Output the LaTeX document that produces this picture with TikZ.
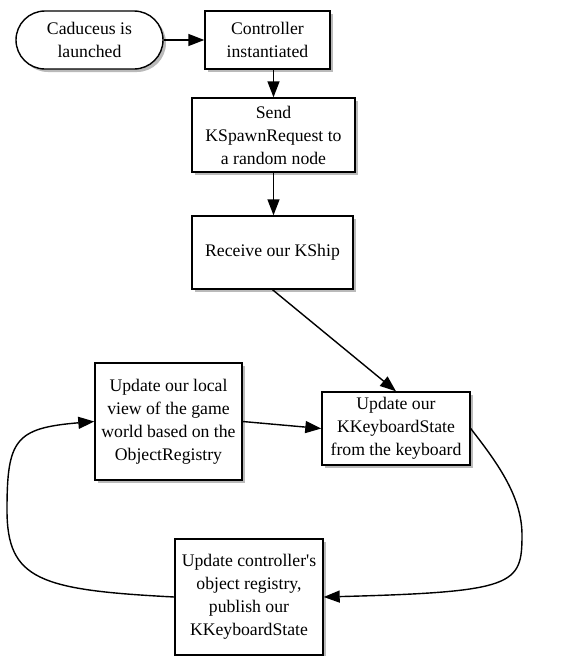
\documentclass[tikz,border=0pt]{standalone}
\usepackage{fontspec}
\setmainfont{Liberation Serif}
\usetikzlibrary{arrows.meta,shadows,shapes.misc}
\begin{document}
\begin{tikzpicture}[x=1pt,y=-1pt,
  base/.style={draw=black,line width=1.4pt,fill=white,align=center,inner sep=0pt,
    font=\fontsize{17.7}{23}\selectfont,
    drop shadow={shadow xshift=3pt,shadow yshift=-3pt,fill=black!45,opacity=0.6}},
  box/.style={base,rectangle},
  term/.style={base,rounded rectangle},
  conn/.style={line width=1.4pt,-{Triangle[length=16pt,width=12pt]}}]
\useasboundingbox[fill=white] (0,0) rectangle (572,656);
\node[term,minimum width=147pt,minimum height=58pt] (start) at (89.5,40) {Caduceus is\\launched};
\node[box,minimum width=125pt,minimum height=58pt] (ctrl) at (267.5,40) {Controller\\instantiated};
\node[box,minimum width=163pt,minimum height=74pt] (send) at (273.5,135) {Send\\KSpawnRequest to\\a random node};
\node[box,minimum width=161pt,minimum height=73pt] (recv) at (272.5,252.5) {Receive our KShip};
\node[box,minimum width=147pt,minimum height=117pt] (local) at (168.5,421.5) {Update our local\\view of the game\\world based on the\\ObjectRegistry};
\node[box,minimum width=148pt,minimum height=73pt] (kbd) at (396,428.5) {Update our\\KKeyboardState\\from the keyboard};
\node[box,minimum width=148pt,minimum height=116pt] (pub) at (249,597) {Update controller\textquotesingle s\\object registry,\\publish our\\KKeyboardState};
\draw[conn] (start.east) -- (ctrl.west);
\draw[conn] (send.north |- ctrl.south) -- (send.north);
\draw[conn] (send.south) -- (send.south |- recv.north);
\draw[conn] (recv.south) -- (kbd.north);
\draw[conn] (local.east) -- (kbd.west);
\coordinate (r) at (522,535);
\coordinate (l) at (7,510);
\draw[conn] (kbd.east) .. controls (495,460) and (522,495) .. (r)
  .. controls (522,585) and (515,592) .. (pub.east);
\draw[conn] (pub.west) .. controls (40,590) and (7,580) .. (l)
  .. controls (7,440) and (15,428) .. (local.west);
\end{tikzpicture}
\end{document}
